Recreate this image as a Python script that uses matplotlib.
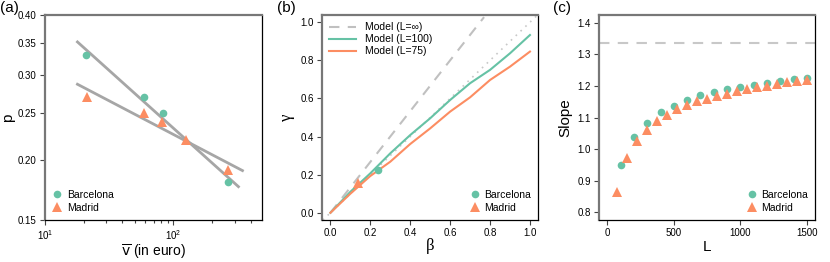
import numpy as np
import matplotlib
matplotlib.use("Agg")
import matplotlib.pyplot as plt
from matplotlib.lines import Line2D
from matplotlib.ticker import FixedLocator, NullFormatter, FormatStrFormatter

GREEN = "#66c2a5"
ORANGE = "#fc8d62"
GRAY = "#a6a6a6"

# panel (a): p vs mean price
bcn_v = [20.9, 59.2, 83.6, 265.6]
bcn_p = [0.330, 0.270, 0.250, 0.1796]
mad_v = [21.4, 59.2, 82.0, 125.6, 265.6]
mad_p = [0.2705, 0.2505, 0.240, 0.2199, 0.1906]
fit_range_bcn = [17.9, 321.0]
fit_range_mad = [17.9, 345.0]

# panel (b): gamma vs beta
beta = [0.0, 0.1, 0.2, 0.3, 0.4, 0.5, 0.6, 0.7, 0.8, 0.9, 1.0]
gamma_l100 = [0.0, 0.11, 0.207, 0.312, 0.408, 0.496, 0.592, 0.68, 0.75, 0.837, 0.933]
gamma_l75 = [0.0, 0.10, 0.193, 0.268, 0.361, 0.443, 0.531, 0.606, 0.697, 0.767, 0.846]
beta_inf = [0.0, 0.77]
gamma_inf = [0.0, 1.027]
bcn_beta, bcn_gamma = [0.237], [0.224]
mad_beta, mad_gamma = [0.137], [0.158]

# panel (c): slope vs L
bcn_L = [100, 200, 300, 400, 500, 600, 700, 800, 900, 1000, 1100, 1200, 1300, 1400, 1500]
bcn_slope = [0.950, 1.039, 1.0835, 1.118, 1.137, 1.155, 1.170, 1.181, 1.189, 1.195,
             1.203, 1.208, 1.2165, 1.222, 1.226]
mad_L = [75, 150, 225, 300, 375, 450, 525, 600, 675, 750, 825, 900, 975, 1050,
         1125, 1200, 1275, 1350, 1425, 1500]
mad_slope = [0.865, 0.971, 1.027, 1.062, 1.090, 1.108, 1.128, 1.138, 1.152, 1.1595,
             1.169, 1.175, 1.184, 1.190, 1.196, 1.2006, 1.206, 1.212, 1.215, 1.2175]
slope_inf = 1.337

plt.rcParams["font.family"] = ["Liberation Sans", "DejaVu Sans"]
plt.rcParams["mathtext.fontset"] = "dejavusans"

fig = plt.figure(figsize=(8.3, 2.62), dpi=100)
axes = [fig.add_axes([0.0542, 0.1603, 0.2615, 0.7824]),
        fig.add_axes([0.388, 0.1603, 0.2606, 0.7824]),
        fig.add_axes([0.722, 0.1603, 0.260, 0.7824])]

SERIF = ["Liberation Serif", "DejaVu Serif"]


def style(ax):
    for s in ["top", "left"]:
        ax.spines[s].set_color("#777777")
        ax.spines[s].set_linewidth(1.6)
    for s in ["bottom", "right"]:
        ax.spines[s].set_color("black")
        ax.spines[s].set_linewidth(0.9)
    ax.tick_params(axis="both", which="both", direction="out", labelsize=7,
                   color="#444444", width=0.8, pad=2.5)
    ax.tick_params(which="major", length=3.5)
    ax.tick_params(which="minor", length=2)


mk = dict(linestyle="none", markeredgewidth=0)
legend_kw = dict(frameon=False, fontsize=7.5, handlelength=1, handletextpad=0.4,
                 labelspacing=0.3, borderaxespad=0.3)

# (a)
ax = axes[0]
ax.set_xscale("log")
ax.set_yscale("log")
for vx, py, rng in [(bcn_v, bcn_p, fit_range_bcn), (mad_v, mad_p, fit_range_mad)]:
    k, b = np.polyfit(np.log10(vx), np.log10(py), 1)
    xs = np.array(rng)
    ax.plot(xs, 10 ** (b + k * np.log10(xs)), color=GRAY, lw=2, zorder=1)
ax.plot(bcn_v, bcn_p, "o", color=GREEN, ms=5.5, **mk, zorder=2)
ax.plot(mad_v, mad_p, "^", color=ORANGE, ms=6.5, **mk, zorder=2)
ax.set_xlim(10, 490)
ax.set_ylim(0.15, 0.40)
ax.yaxis.set_major_locator(FixedLocator([0.15, 0.20, 0.25, 0.30, 0.35, 0.40]))
ax.yaxis.set_major_formatter(FormatStrFormatter("%.2f"))
ax.yaxis.set_minor_locator(FixedLocator([]))
ax.yaxis.set_minor_formatter(NullFormatter())
ax.set_xlabel(r"$\overline{\mathsf{v}}$ (in euro)", fontsize=10, labelpad=0)
ax.set_ylabel("p", fontsize=11, labelpad=2)
style(ax)
h = [Line2D([], [], marker="o", color=GREEN, ms=5.5, **mk),
     Line2D([], [], marker="^", color=ORANGE, ms=6.5, **mk)]
ax.legend(h, ["Barcelona", "Madrid"], loc="lower left", **legend_kw)
fig.text(0.0, 0.995, "(a)", fontsize=11, va="top", ha="left")

# (b)
ax = axes[1]
ax.axline((0, 0), (1, 1), color="#c8c8c8", lw=1.2, ls=(0, (1, 3)), zorder=0)
l1, = ax.plot(beta_inf, gamma_inf, color="#c0c0c0", lw=1.5, ls=(0, (5, 4)))
l2, = ax.plot(beta, gamma_l100, color=GREEN, lw=1.5)
l3, = ax.plot(beta, gamma_l75, color=ORANGE, lw=1.5)
ax.plot(bcn_beta, bcn_gamma, "o", color=GREEN, ms=5.5, **mk)
ax.plot(mad_beta, mad_gamma, "^", color=ORANGE, ms=6.5, **mk)
ax.set_xlim(-0.042, 1.042)
ax.set_ylim(-0.038, 1.038)
ax.set_xticks([0.0, 0.2, 0.4, 0.6, 0.8, 1.0])
ax.set_yticks([0.0, 0.2, 0.4, 0.6, 0.8, 1.0])
ax.xaxis.set_major_formatter(FormatStrFormatter("%.1f"))
ax.yaxis.set_major_formatter(FormatStrFormatter("%.1f"))
ax.set_xlabel("\u03b2", fontsize=12, labelpad=0, family=SERIF)
ax.set_ylabel("\u03b3", fontsize=12, labelpad=4, family=SERIF)
style(ax)
leg = ax.legend([l1, l2, l3], ["Model (L=\u221e)", "Model (L=100)", "Model (L=75)"],
                loc="upper left", frameon=False, fontsize=7.5, handlelength=2.6,
                handletextpad=0.8, labelspacing=0.2, borderaxespad=0.3)
ax.add_artist(leg)
ax.legend(h, ["Barcelona", "Madrid"], loc="lower right", **legend_kw)
fig.text(0.334, 0.995, "(b)", fontsize=11, va="top", ha="left")

# (c)
ax = axes[2]
ax.axhline(slope_inf, color="#c8c8c8", lw=1.5, ls=(0, (5, 4)), zorder=0)
ax.plot(bcn_L, bcn_slope, "o", color=GREEN, ms=5.5, **mk)
ax.plot(mad_L, mad_slope, "^", color=ORANGE, ms=6.5, **mk)
ax.set_xlim(-60, 1560)
ax.set_ylim(0.776, 1.424)
ax.set_xticks([0, 500, 1000, 1500])
ax.set_yticks([0.8, 0.9, 1.0, 1.1, 1.2, 1.3, 1.4])
ax.yaxis.set_major_formatter(FormatStrFormatter("%.1f"))
ax.set_xlabel("L", fontsize=11, labelpad=1)
ax.set_ylabel("Slope", fontsize=11, labelpad=4)
style(ax)
ax.legend(h, ["Barcelona", "Madrid"], loc="lower right", **legend_kw)
fig.text(0.666, 0.995, "(c)", fontsize=11, va="top", ha="left")

fig.savefig("out.png", dpi=100)
